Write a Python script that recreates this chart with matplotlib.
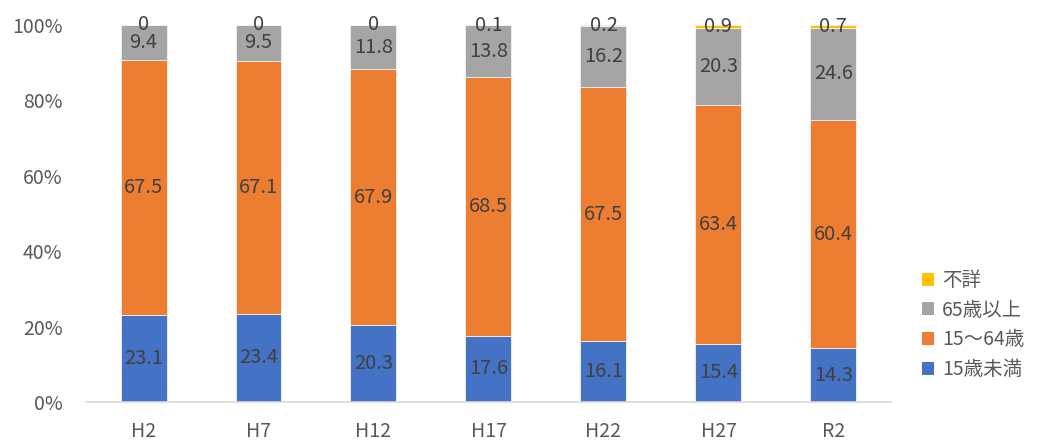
import matplotlib.pyplot as plt
import numpy as np
from matplotlib.patches import Patch

plt.rcParams["font.family"] = ["Noto Sans CJK JP", "DejaVu Sans"]

categories = ["H2", "H7", "H12", "H17", "H22", "H27", "R2"]
under15 = [23.1, 23.4, 20.3, 17.6, 16.1, 15.4, 14.3]
age15_64 = [67.5, 67.1, 67.9, 68.5, 67.5, 63.4, 60.4]
over65 = [9.4, 9.5, 11.8, 13.8, 16.2, 20.3, 24.6]
unknown = [0, 0, 0, 0.1, 0.2, 0.9, 0.7]

series = [
    ("15歳未満", under15, "#4472C4"),
    ("15～64歳", age15_64, "#ED7D31"),
    ("65歳以上", over65, "#A5A5A5"),
    ("不詳", unknown, "#FFC000"),
]

fig = plt.figure(figsize=(10.4, 4.41), dpi=100)
ax = fig.add_axes([0.0827, 0.0884, 0.774, 0.855])

x = np.arange(len(categories))
bottom = np.zeros(len(categories))
for name, vals, color in series:
    vals = np.array(vals, dtype=float)
    ax.bar(x, vals, 0.4, bottom=bottom, color=color, edgecolor="#F2F2F2", linewidth=0.6, label=name)
    for xi, b, v in zip(x, bottom, vals):
        txt = f"{v:g}" if v != 0 else "0"
        ax.text(xi, b + v / 2, txt, ha="center", va="center", fontsize=14.5, color="#404040")
    bottom += vals

ax.set_xlim(-0.5, len(categories) - 0.5)
ax.set_ylim(0, 100)
ax.set_yticks(np.arange(0, 101, 20))
ax.set_yticklabels([f"{v}%" for v in range(0, 101, 20)])
ax.set_xticks(x)
ax.set_xticklabels(categories)
ax.tick_params(axis="both", length=0, labelsize=14, labelcolor="#595959")
ax.tick_params(axis="x", pad=14)
ax.tick_params(axis="y", pad=17)
for s in ["top", "right", "left"]:
    ax.spines[s].set_visible(False)
ax.spines["bottom"].set_color("#D9D9D9")
ax.spines["bottom"].set_linewidth(1.2)

handles = [Patch(facecolor=c, label=n) for n, _, c in reversed(series)]
fig.legend(handles=handles, loc="upper left", bbox_to_anchor=(0.877, 0.41), frameon=False,
           fontsize=14, labelcolor="#595959", handlelength=0.65, handleheight=0.65,
           handletextpad=0.4, labelspacing=0.45, borderpad=0)

fig.savefig("out.png", dpi=100)
